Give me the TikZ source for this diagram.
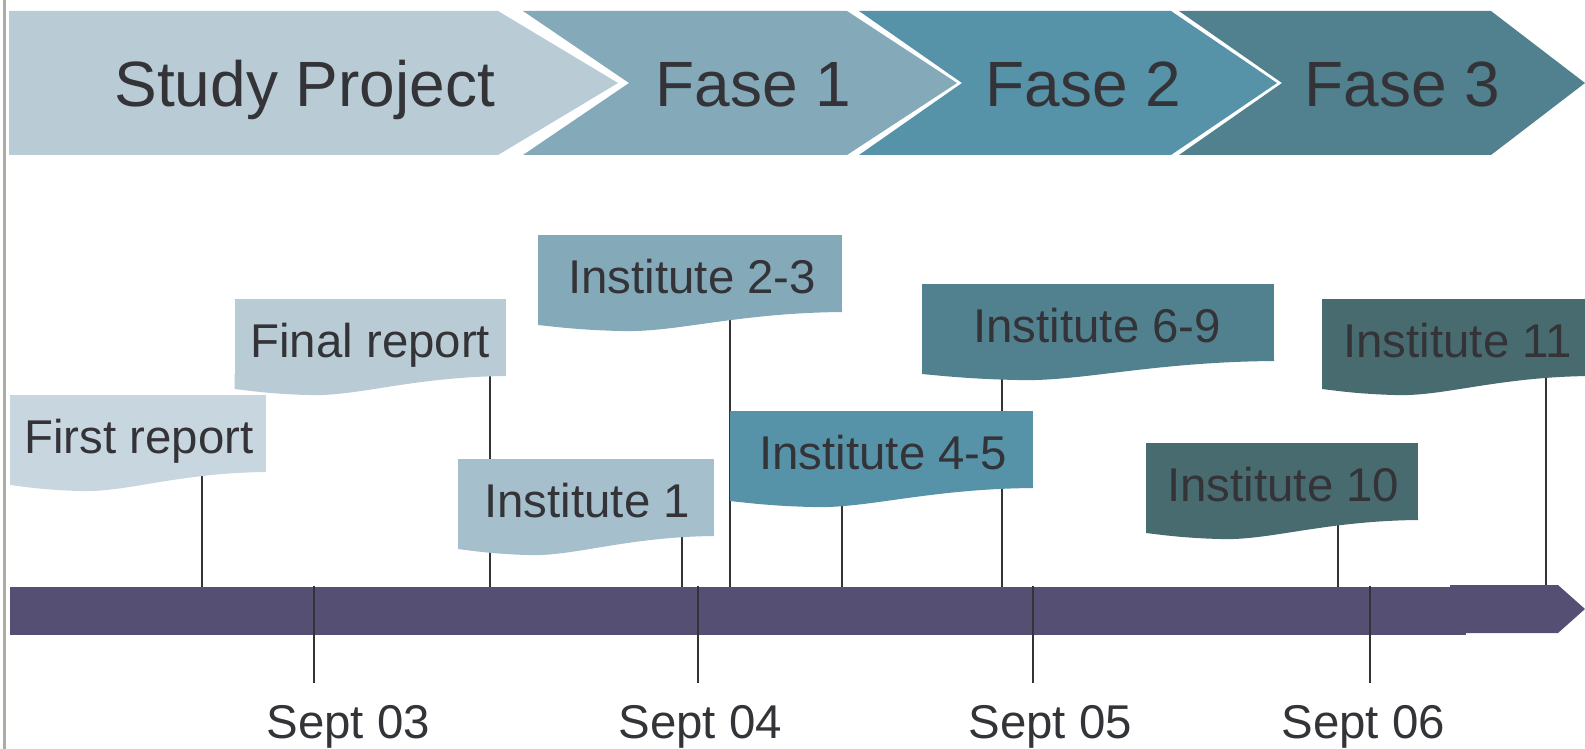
\documentclass[tikz,border=0pt]{standalone}
\usepackage{fontspec}
\setmainfont{Liberation Sans}
\usetikzlibrary{calc,fit}
\pgfdeclarelayer{background}
\pgfsetlayers{background,main}
\definecolor{txt}{HTML}{333338}
\definecolor{cA}{HTML}{C8D6DF}
\definecolor{cB}{HTML}{B9CCD6}
\definecolor{cC}{HTML}{A6BFCC}
\definecolor{cD}{HTML}{84AABA}
\definecolor{cE}{HTML}{5793A8}
\definecolor{cF}{HTML}{51818E}
\definecolor{cG}{HTML}{486B70}
\definecolor{barc}{HTML}{554F74}
\definecolor{bordc}{HTML}{AEAAA4}
\tikzset{
  big/.style={anchor=base west, inner sep=0, text=txt, font=\fontsize{32}{36}\selectfont},
  lbl/.style={anchor=base west, inner sep=0, text=txt, font=\fontsize{23.7}{28}\selectfont},
  flagbox/.style={inner sep=0, outer sep=0, draw=none},
  link/.style={draw=txt, line width=1pt},
  tick/.style={draw=txt, line width=1pt},
}
\newcommand\flagitem[8]{%
  \node[flagbox, fill=#2, fit={(#3,#4)(#5,#4+77)}] (#1) {};
  \fill[#2] ($(#1.south east)+(0,-2)$) -- (#1.south east)
    .. controls ($(#1.south west)!0.65!(#1.south east)+(0,1)$) and ($(#1.south west)!0.45!(#1.south east)+(0,21)$)
    .. ($(#1.south west)!0.27!(#1.south east)+(0,19)$)
    .. controls ($(#1.south west)!0.14!(#1.south east)+(0,18)$) and ($(#1.south west)!0.06!(#1.south east)+(0,15)$)
    .. ($(#1.south west)+(0,13)$) -- ($(#1.south west)+(0,-2)$) -- cycle;
  \node[lbl] (#1-t) at (#6,#4+58) {#7};
  \coordinate (#1-c) at (#8,#4+77);
  \begin{pgfonlayer}{background}
    \draw[link] (#1-c) -- (#1-c |- bar.north);
  \end{pgfonlayer}
}
\begin{document}
\begin{tikzpicture}[x=0.5pt,y=-0.5pt]
\useasboundingbox (0,0) rectangle (1585,749);
% left border
\fill[bordc] (2.5,0) rectangle (6,749);
% chevrons
\fill[cB] (9,11) -- (498,11) -- (618,83) -- (498,155) -- (9,155) -- cycle;
\fill[cD] (523,11) -- (847,11) -- (957,83) -- (847,155) -- (523,155) -- (629,83) -- cycle;
\fill[cE] (859,11) -- (1171,11) -- (1277,83) -- (1171,155) -- (859,155) -- (962,83) -- cycle;
\fill[cF] (1179,11) -- (1491,11) -- (1585,83) -- (1491,155) -- (1179,155) -- (1282,83) -- cycle;
\node[big] (sp) at (114,107) {Study Project};
\node[big] (f1) at (655,107) {Fase 1};
\node[big] (f2) at (985,107) {Fase 2};
\node[big] (f3) at (1304,107) {Fase 3};
% timeline bar
\node[flagbox, fill=barc, fit={(10,587)(1466,635)}] (bar) {};
\fill[barc] (1450,585) -- (1558,585) -- (1585,609) -- (1558,633) -- (1450,633) -- cycle;
% year ticks and labels
\foreach \n/\x/\lx in {03/314/266, 04/698/618, 05/1033/968, 06/1370/1281}{
  \coordinate (t\n a) at (\x,586);
  \coordinate (t\n b) at (\x,683);
  \draw[tick] (t\n a) -- (t\n b);
  \node[lbl] (d\n) at (\lx,738) {Sept \n};
}
% event flags
\flagitem{fr}{cA}{10}{395}{266}{24}{First report}{202}
\flagitem{fn}{cB}{234.5}{299}{506}{250}{Final report}{490}
\flagitem{ia}{cC}{458}{459}{714}{484}{Institute 1}{682}
\flagitem{ib}{cD}{538}{235}{842}{568}{Institute 2-3}{730}
\flagitem{ic}{cE}{730}{411}{1033}{759}{Institute 4-5}{842}
\flagitem{id}{cF}{922}{284}{1274}{973}{Institute 6-9}{1002}
\flagitem{ie}{cG}{1146}{443}{1418}{1167}{Institute 10}{1338}
\flagitem{ig}{cG}{1322}{299}{1590}{1343}{Institute 11}{1546}
\end{tikzpicture}
\end{document}
